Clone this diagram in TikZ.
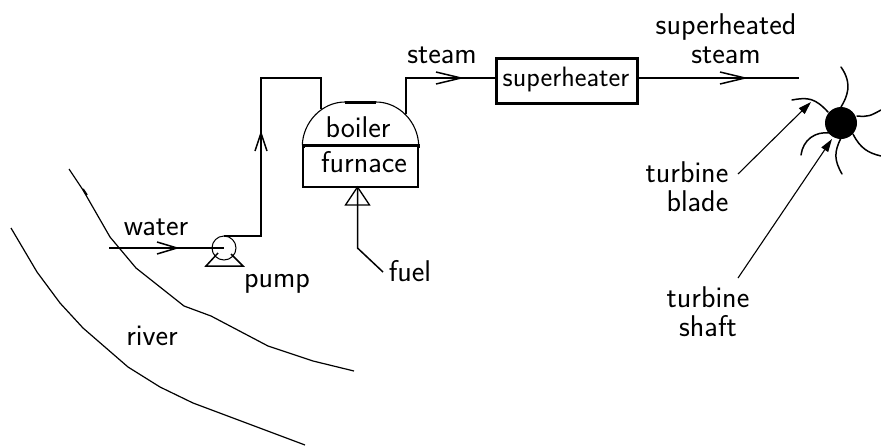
\documentclass[tikz,border=0pt]{standalone}
\usetikzlibrary{arrows.meta}
\renewcommand{\familydefault}{\sfdefault}
\tikzset{
  lbl/.style={inner sep=0pt,font=\fontsize{30}{29.5}\selectfont\sffamily,align=center,text=black,anchor=base},
  pipe/.style={line width=1.5pt,line join=miter},
  thin line/.style={line width=1.2pt},
  barb/.style={line width=1.5pt},
  blade/.style={line width=1.5pt,line cap=round},
  lead/.style={line width=1.1pt,-{Triangle[length=13pt,width=8pt]}},
}
\begin{document}
\begin{tikzpicture}[x=1pt,y=-1pt]
\useasboundingbox (0,0) rectangle (881,445);
% river
\draw[thin line] (69,169) -- (83,190) -- (110,237) -- (136,268) -- (184,306) -- (211,316) -- (268,346) -- (313,361) -- (354,371);
\draw[line width=1.8pt] (83,189) -- (87,195);
\draw[thin line] (11,228) -- (37,272) -- (60,303) -- (83,328) -- (128,367) -- (160,387) -- (193,403) -- (305,445);
% pump
\node[circle,draw,line width=1pt,minimum size=24pt,inner sep=0pt] (pumpc) at (224,248) {};
\coordinate (wstart) at (109,248);
\coordinate (pumpin) at (224,248);
\coordinate (pumpout) at (224,236);
\coordinate (c1) at (261,236);
\coordinate (c2) at (261,78);
\coordinate (c3) at (321,78);
\coordinate (boilin) at (321,109);
\draw[pipe] (wstart) -- (pumpin);
\draw[barb] (157,242) -- (177,248) -- (157,254);
\draw[pipe] (pumpout) -- (c1) -- (c2) -- (c3) -- (boilin);
\draw[barb] (255,151) -- (261,133) -- (267,151);
\draw[pipe] (218,253) -- (206,266) -- (243,266) -- (231,254);
% boiler
\node[draw,line width=1.4pt,minimum width=115pt,minimum height=41pt,inner sep=0pt] (furn) at (360.5,166.5) {};
\draw[line width=1.1pt] (furn.north west) .. controls (303,122) and (322,102) .. (345,102) -- (376,102) .. controls (399,102) and (418,122) .. (furn.north east);
\draw[line width=3pt] (345,102) -- (376,102);
\draw[line width=2pt] (furn.north west) -- (furn.north east);
\fill (301.5,144) rectangle (304.5,148);
\fill (416.5,144) rectangle (419.5,148);
% superheater
\node[draw,line width=3pt,minimum width=141pt,minimum height=45pt,inner sep=0pt] (sh) at (566.5,80.5) {};
\node[lbl,font=\fontsize{28}{30}\selectfont\sffamily] (shl) at (566,86) {superheater};
\coordinate (s0) at (406,114);
\coordinate (s1) at (406,78);
\draw[pipe] (s0) -- (s1) -- (s1 -| sh.west);
\draw[barb] (436,72) -- (461,78) -- (436,84);
\coordinate (send) at (799,78);
\coordinate (s3) at (sh.east |- send);
\draw[pipe] (s3) -- (send);
\draw[line width=2pt] (684,78) -- (745,78);
\draw[barb] (720,72) -- (745,78) -- (720,84);
% fuel
\coordinate (fapex) at (357.5,187);
\coordinate (fbend) at (357.5,248);
\coordinate (fend) at (383,272);
\draw[pipe] (fapex) -- (fbend) -- (fend);
\draw[line width=1.3pt] (fapex) -- (345.5,205) -- (369.5,205) -- cycle;
% turbine
\node[circle,fill=black,minimum size=32pt,inner sep=0pt] (shaft) at (841,123) {};
\draw[blade] (841,107) .. controls (847,97) and (853,84) .. (841,67);
\draw[blade] (857,116) .. controls (868,117) and (870,116) .. (881,110);
\draw[blade] (853,134) .. controls (860,148) and (868,153) .. (881,156);
\draw[blade] (841,138) .. controls (834,152) and (834,160) .. (842,174);
\draw[blade] (830,133) .. controls (815,131) and (803,140) .. (801,155);
\draw[blade] (828,112) .. controls (815,98) and (808,97) .. (792,100);
\coordinate (bladeTip) at (811,102);
\coordinate (shaftTip) at (832,139);
\coordinate (bladeStart) at (738,174);
\coordinate (shaftStart) at (738,278);
\draw[lead] (bladeStart) -- (bladeTip);
\draw[lead] (shaftStart) -- (shaftTip);
% labels
\node[lbl,align=right,anchor=center] (tb) at (687,186.5) {turbine\\blade};
\node[lbl,anchor=center] (ts) at (708,311.5) {turbine\\shaft};
\node[lbl] (lw) at (156,235) {water};
\node[lbl] (lp) at (277,287) {pump};
\node[lbl] (lr) at (152,345) {river};
\node[lbl] (lb) at (358,137) {boiler};
\node[lbl] (lf) at (364,172) {furnace};
\node[lbl] (lst) at (442,63) {steam};
\node[lbl] (lfu) at (410,281) {fuel};
\node[lbl,anchor=center] (lsh) at (726,38.5) {superheated\\steam};
\end{tikzpicture}
\end{document}
